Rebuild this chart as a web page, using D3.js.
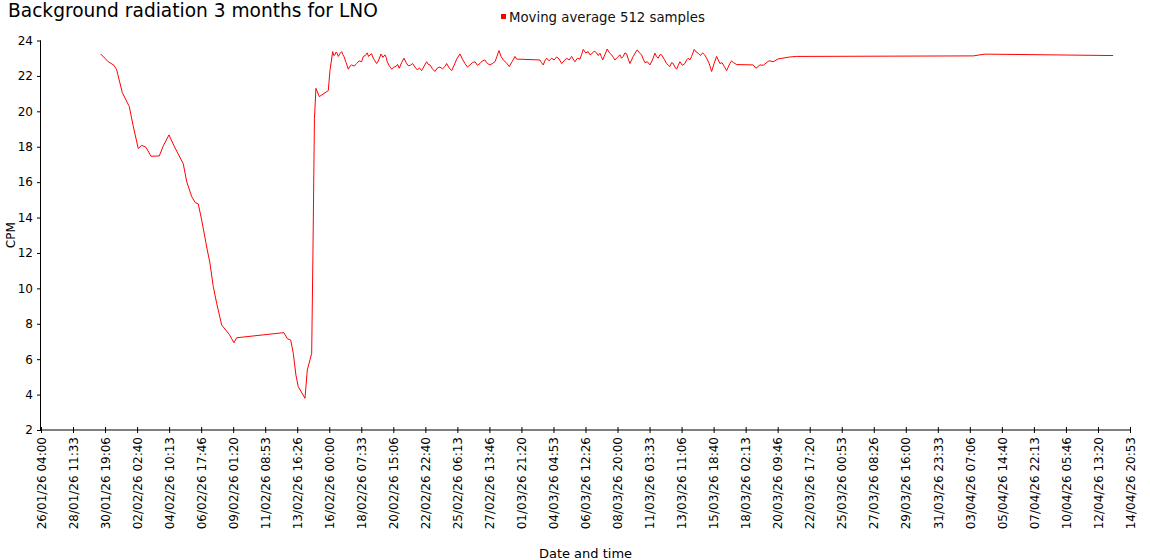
<!DOCTYPE html>
<html>
<head>
<meta charset="utf-8">
<script src="https://cdn.jsdelivr.net/npm/d3@7"></script>
<style>
  html, body { margin: 0; padding: 0; background: #fff; }
  svg { display: block; font-family: "DejaVu Sans", Verdana, sans-serif; }
</style>
</head>
<body>
<svg id="chart" width="1150" height="560"></svg>
<script>
const title = "Background radiation 3 months for LNO";
const seriesName = "Moving average 512 samples";
const yTitle = "CPM";
const xTitle = "Date and time";
const startLabel = "26/01/26 04:00";
const yTicks = [2, 4, 6, 8, 10, 12, 14, 16, 18, 20, 22, 24];
const xTickLabels = [
  "26/01/26 04:00","28/01/26 11:33","30/01/26 19:06","02/02/26 02:40","04/02/26 10:13",
  "06/02/26 17:46","09/02/26 01:20","11/02/26 08:53","13/02/26 16:26","16/02/26 00:00",
  "18/02/26 07:33","20/02/26 15:06","22/02/26 22:40","25/02/26 06:13","27/02/26 13:46",
  "01/03/26 21:20","04/03/26 04:53","06/03/26 12:26","08/03/26 20:00","11/03/26 03:33",
  "13/03/26 11:06","15/03/26 18:40","18/03/26 02:13","20/03/26 09:46","22/03/26 17:20",
  "25/03/26 00:53","27/03/26 08:26","29/03/26 16:00","31/03/26 23:33","03/04/26 07:06",
  "05/04/26 14:40","07/04/26 22:13","10/04/26 05:46","12/04/26 13:20","14/04/26 20:53"
];
// hours since 26/01/26 04:00
const hoursSinceStart = [
  103.5,116.7,126.6,131.3,141.0,153.1,160.1,168.7,174.6,182.1,190.8,205.2,212.1,222.0,230.7,
  246.8,252.7,261.4,267.6,272.8,278.7,288.4,293.1,298.8,304.7,313.4,326.6,334.7,339.4,421.4,
  427.2,433.1,437.6,442.2,446.2,457.9,461.9,469.5,471.7,474.3,476.9,482.7,498.3,501.2,
  505.9,507.9,509.9,511.9,513.9,515.6,517.3,519.4,521.5,523.5,525.5,529.2,533.0,535.9,538.8,
  543.2,547.5,551.8,556.2,557.6,559.0,562.4,565.9,568.2,570.6,573.4,576.3,579.2,582.2,585.9,
  589.7,593.1,596.6,598.6,600.6,604.4,608.2,612.0,615.7,618.5,621.4,625.5,629.6,633.3,637.0,
  640.8,644.6,648.6,652.6,656.4,660.2,664.5,668.9,671.7,674.6,679.0,683.3,687.6,692.0,696.4,
  700.7,703.6,708.0,712.3,716.6,721.0,726.7,731.0,735.3,739.7,744.0,748.3,752.7,757.0,761.4,
  765.7,770.0,774.3,778.7,783.0,787.4,790.9,794.3,798.0,801.8,807.0,812.2,817.1,822.1,825.0,
  865.4,868.2,871.1,874.0,877.0,881.3,885.7,890.0,894.4,898.7,903.0,907.3,911.7,916.0,920.4,
  923.2,926.1,930.4,934.8,937.6,940.5,944.8,949.2,952.1,955.1,959.4,963.8,966.6,969.5,971.8,
  974.2,978.1,982.1,986.0,989.8,992.6,995.5,999.8,1004.2,1007.0,1009.9,1012.8,1015.8,1018.6,
  1021.5,1024.3,1027.2,1030.7,1034.2,1038.0,1041.8,1044.6,1047.5,1051.8,1056.2,1060.5,1064.9,
  1067.7,1070.6,1073.5,1076.5,1080.8,1085.2,1088.0,1090.9,1093.7,1096.6,1099.5,1102.5,1105.3,
  1108.2,1112.5,1116.9,1119.7,1122.6,1125.5,1128.5,1133.0,1136.5,1140.0,1143.8,1147.6,1151.0,
  1154.5,1159.0,1163.2,1167.5,1171.9,1174.7,1177.6,1181.3,1185.1,1189.2,1192.0,1194.9,1197.8,
  1200.7,1206.6,1235.4,1240.0,1247.0,1252.7,1263.1,1270.0,1278.7,1299.0,1310.6,1616.9,1637.2,1859.7
];
const cpm = [
  23.24,22.8,22.6,22.34,21.06,20.27,19.14,17.9,18.08,17.97,17.46,17.48,18.05,18.67,18.05,
  17.03,16.03,15.18,14.84,14.77,13.86,12.17,11.42,10.1,9.16,7.93,7.4,6.93,7.21,7.5,
  7.16,7.08,6.33,5.1,4.45,3.79,5.39,6.33,12.0,19.6,21.3,20.83,21.17,22.3,
  23.37,23.15,23.19,23.35,23.28,23.1,23.19,23.3,23.37,23.2,23.1,22.75,22.38,22.55,22.62,
  22.55,22.7,22.85,22.8,22.95,23.1,23.15,23.3,23.1,23.19,23.25,23.0,22.85,22.7,22.9,
  23.24,23.05,23.19,23.05,22.8,22.55,22.38,22.5,22.53,22.65,22.43,22.75,23.0,22.75,22.57,
  22.6,22.7,22.5,22.34,22.45,22.3,22.55,22.8,22.65,22.62,22.4,22.25,22.45,22.5,22.4,
  22.53,22.7,22.45,22.3,22.6,22.95,23.24,22.95,22.7,22.5,22.62,22.75,22.8,22.6,22.7,
  22.85,22.9,22.7,22.62,22.7,22.8,23.1,23.43,23.1,22.9,22.75,22.53,22.8,23.1,22.95,
  22.9,22.75,22.62,22.85,23.0,22.85,23.0,22.9,23.07,22.95,22.7,22.85,23.0,22.9,23.1,
  22.95,22.8,23.0,22.95,23.2,23.5,23.3,23.37,23.2,23.24,23.4,23.3,23.15,23.28,23.1,
  22.9,23.2,23.52,23.3,23.19,23.05,22.9,23.05,23.19,23.0,23.1,23.3,23.24,22.95,
  22.7,22.9,23.1,23.3,23.47,23.3,23.19,22.95,22.75,22.8,22.62,22.9,23.28,
  23.1,23.0,23.2,23.19,22.95,22.7,22.6,22.53,22.75,22.7,22.5,22.38,22.6,
  22.8,22.6,22.7,22.9,23.0,22.9,23.1,23.5,23.35,23.28,23.15,23.3,23.2,
  23.0,22.7,22.25,22.7,23.1,22.9,22.7,22.75,22.53,22.3,22.5,22.7,22.85,
  22.76,22.64,22.62,22.43,22.62,22.6,22.86,22.8,22.96,23.07,23.1,23.13,23.23,23.15
];

const parse = d3.timeParse("%d/%m/%y %H:%M");
const fmt = d3.timeFormat("%d/%m/%y %H:%M");
const start = parse(startLabel);
const tickDates = xTickLabels.map(parse);
const data = hoursSinceStart.map((h, i) => ({
  t: new Date(start.getTime() + h * 3600000), v: cpm[i]
}));

const svg = d3.select("#chart");
const x = d3.scaleTime().domain([tickDates[0], tickDates[tickDates.length - 1]]).range([41, 1130]);
const y = d3.scaleLinear().domain([2, 24]).range([430, 40.5]);

// title
svg.append("text").attr("x", 8).attr("y", 17)
  .style("font-size", "18.6px").attr("fill", "#000").text(title);

// legend
svg.append("rect").attr("x", 501).attr("y", 14).attr("width", 5).attr("height", 5).attr("fill", "#ff0000");
svg.append("text").attr("x", 509).attr("y", 22).style("font-size", "13.3px").attr("fill", "#111").text(seriesName);

// y axis
const yAxis = svg.append("g").attr("transform", "translate(41,0)")
  .call(d3.axisLeft(y).tickValues(yTicks).tickSize(4).tickPadding(4).tickFormat(d3.format("d")));
yAxis.selectAll("text").style("font-size", "12px").style("font-family", "DejaVu Sans, Verdana, sans-serif").attr("fill", "#000");
yAxis.select(".domain").attr("d", `M-0.5,${y(24)}V${y(2)}`).attr("stroke", "#000");

// x axis
const xAxis = svg.append("g").attr("transform", "translate(0,430)")
  .call(d3.axisBottom(x).tickValues(tickDates).tickSize(3).tickFormat(fmt));
xAxis.select(".domain").attr("d", `M${x.range()[0]},0H${x.range()[1]}`).attr("stroke", "#000");
xAxis.selectAll(".tick line").attr("y1", -3).attr("y2", 3).attr("stroke", "#000");
xAxis.selectAll(".tick text")
  .style("font-size", "12px").style("font-family", "DejaVu Sans, Verdana, sans-serif").attr("fill", "#000")
  .attr("text-anchor", "end")
  .attr("transform", "rotate(-90)")
  .attr("x", -7).attr("y", 0).attr("dy", "0.35em");

// axis titles
svg.append("text").attr("transform", `translate(15,${(y(24) + y(2)) / 2}) rotate(-90)`)
  .attr("text-anchor", "middle").style("font-size", "12px").attr("fill", "#000").text(yTitle);
svg.append("text").attr("x", (x.range()[0] + x.range()[1]) / 2).attr("y", 558)
  .attr("text-anchor", "middle").style("font-size", "13px").attr("fill", "#000").text(xTitle);

// line
const line = d3.line().x(d => x(d.t)).y(d => y(d.v));
svg.append("path").datum(data).attr("d", line)
  .attr("fill", "none").attr("stroke", "#ff0000").attr("stroke-width", 1).attr("stroke-linejoin", "round");
</script>
</body>
</html>
